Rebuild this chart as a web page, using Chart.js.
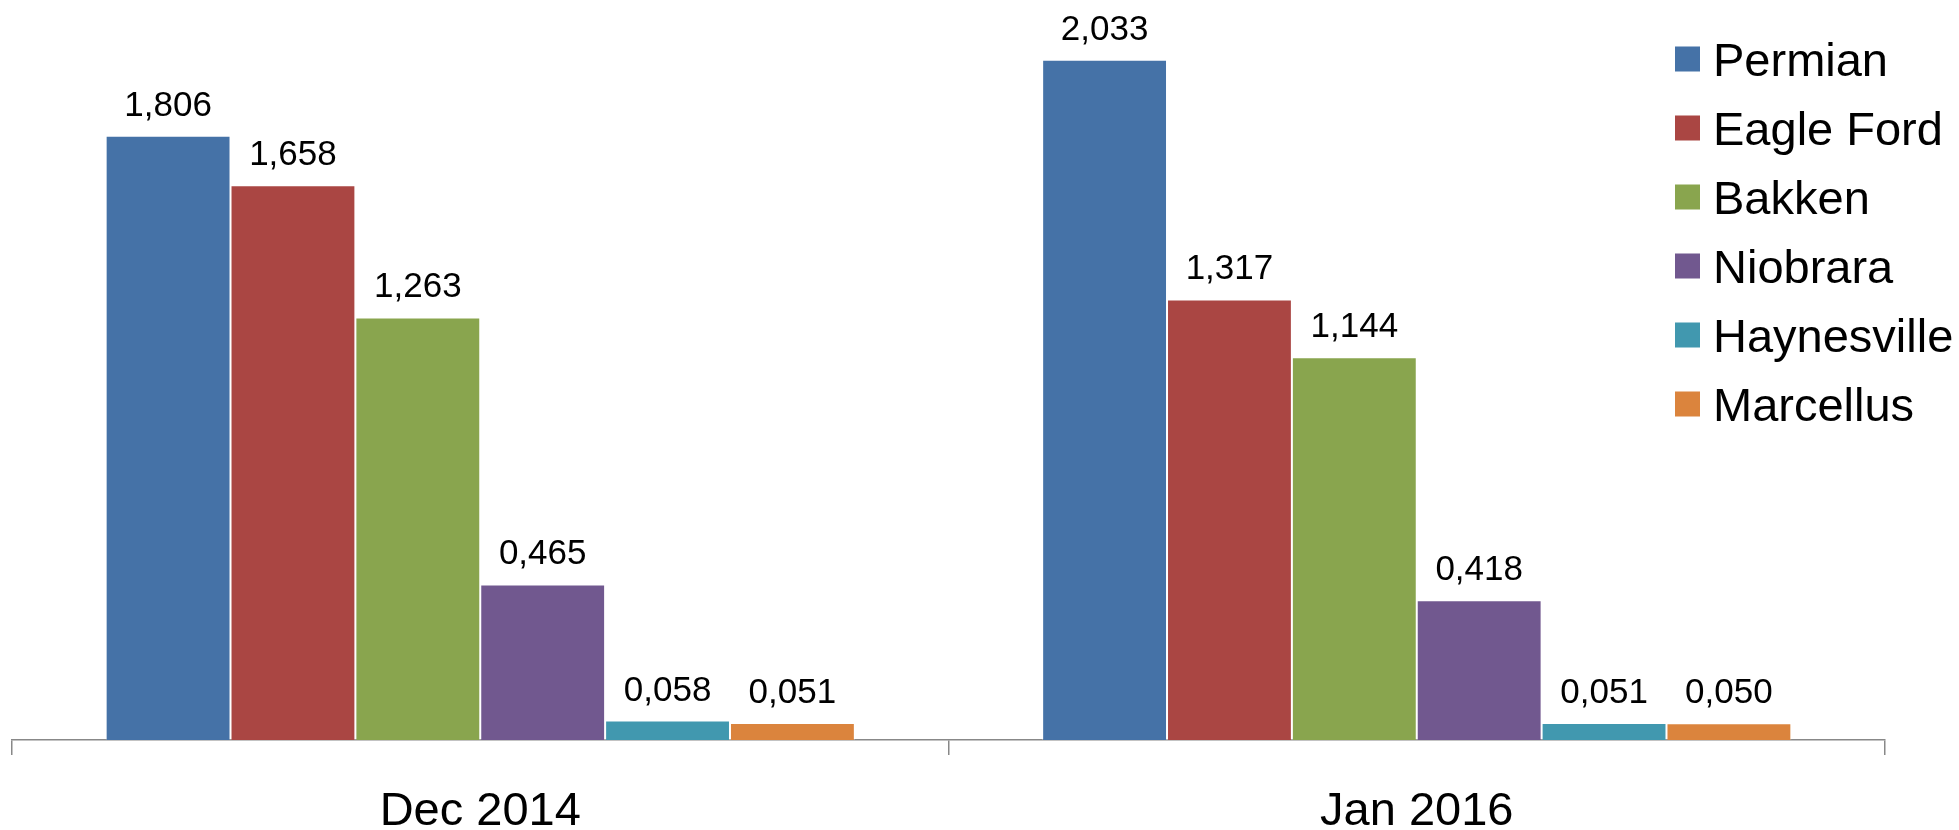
<!DOCTYPE html>
<html>
<head>
<meta charset="utf-8">
<script src="https://cdn.jsdelivr.net/npm/chart.js@4.4.1/dist/chart.umd.min.js"></script>
<style>
  html, body { margin: 0; padding: 0; background: #fff; }
  #wrap { width: 1959px; height: 830px; }
</style>
</head>
<body>
<div id="wrap"><canvas id="chart"></canvas></div>
<script>
const categories = ["Dec 2014", "Jan 2016"];
const basins = ["Permian", "Eagle Ford", "Bakken", "Niobrara", "Haynesville", "Marcellus"];
const permian = [1.806, 2.033];
const eagleFord = [1.658, 1.317];
const bakken = [1.263, 1.144];
const niobrara = [0.465, 0.418];
const haynesville = [0.058, 0.051];
const marcellus = [0.051, 0.050];
const colors = ["#4572A7", "#AA4643", "#89A54E", "#71588F", "#4198AF", "#DB843D"];

const FONT = "'Liberation Sans', Arial, sans-serif";
const seriesValues = [permian, eagleFord, bakken, niobrara, haynesville, marcellus];

// value labels above each bar, comma as decimal separator
const valueLabels = {
  id: "valueLabels",
  afterDatasetsDraw(chart) {
    const ctx = chart.ctx;
    ctx.save();
    ctx.font = "35px " + FONT;
    ctx.fillStyle = "#000";
    ctx.textAlign = "center";
    ctx.textBaseline = "alphabetic";
    chart.data.datasets.forEach((ds, i) => {
      chart.getDatasetMeta(i).data.forEach((bar, j) => {
        const txt = ds.data[j].toFixed(3).replace(".", ",");
        ctx.fillText(txt, bar.x, bar.y - 20);
      });
    });
    ctx.restore();
  },
};

// legend drawn over the top right of the plot, like the original
const sideLegend = {
  id: "sideLegend",
  afterDraw(chart) {
    const ctx = chart.ctx;
    ctx.save();
    ctx.font = "47px " + FONT;
    ctx.textAlign = "left";
    ctx.textBaseline = "alphabetic";
    chart.data.datasets.forEach((ds, i) => {
      const cy = 59 + i * 69;
      ctx.fillStyle = ds.backgroundColor;
      ctx.fillRect(1675, cy - 12.5, 25, 25);
      ctx.fillStyle = "#000";
      ctx.fillText(ds.label, 1713, cy + 17);
    });
    ctx.restore();
  },
};

const ctx = document.getElementById("chart").getContext("2d");
const chart = new Chart(ctx, {
  type: "bar",
  data: {
    labels: categories,
    datasets: basins.map((name, i) => ({
      label: name,
      data: seriesValues[i],
      backgroundColor: colors[i],
      borderColor: "rgba(255,255,255,0.35)",
      borderWidth: 1,
      categoryPercentage: 0.8,
      barPercentage: 1.0,
    })),
  },
  options: {
    responsive: true,
    maintainAspectRatio: false,
    animation: false,
    layout: { padding: { top: 4, left: 12, right: 74, bottom: 0 } },
    plugins: {
      legend: { display: false },
      tooltip: { enabled: false },
    },
    scales: {
      x: {
        afterFit: (scale) => { scale.height = 90; },
        grid: {
          display: true,
          offset: true,
          drawOnChartArea: false,
          drawTicks: true,
          tickLength: 15,
          color: "#888",
          lineWidth: 1.5,
        },
        border: { display: true, color: "#888", width: 1.5 },
        ticks: {
          color: "#000",
          padding: 29,
          font: { family: FONT, size: 47 },
        },
      },
      y: {
        display: false,
        min: 0,
        max: 2.2,
      },
    },
  },
  plugins: [valueLabels, sideLegend],
});
</script>
</body>
</html>
